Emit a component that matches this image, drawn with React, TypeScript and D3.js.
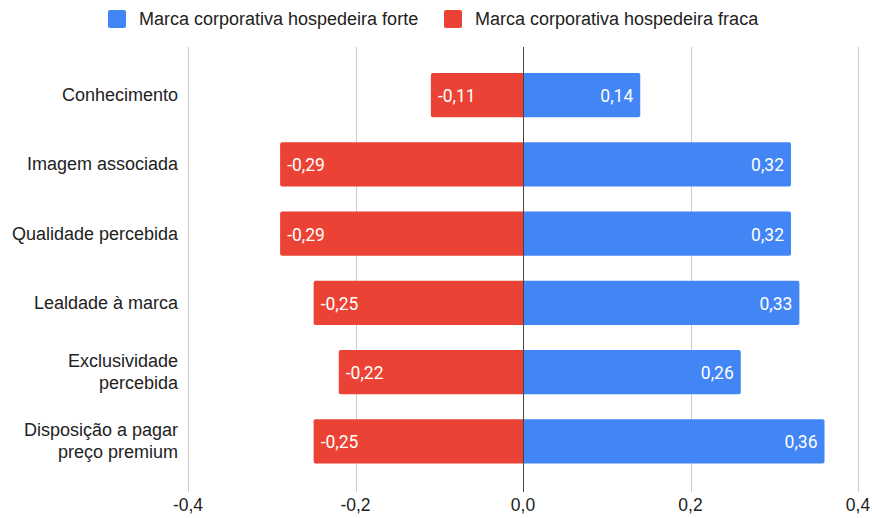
import { useRef, useEffect } from "react";
import * as d3 from "d3";

const categories = [
  "Conhecimento",
  "Imagem associada",
  "Qualidade percebida",
  "Lealdade à marca",
  "Exclusividade percebida",
  "Disposição a pagar preço premium",
];
const forte = [0.14, 0.32, 0.32, 0.33, 0.26, 0.36];
const fraca = [-0.11, -0.29, -0.29, -0.25, -0.22, -0.25];
const ticks = [-0.4, -0.2, 0, 0.2, 0.4];
const seriesNames = [
  "Marca corporativa hospedeira forte",
  "Marca corporativa hospedeira fraca",
];

const BLUE = "#4285F4";
const RED = "#EA4335";
// d3.format uses a unicode minus; the chart uses a plain hyphen and a comma decimal
const fmt = (v: number) => d3.format(".2f")(v).replace(".", ",").replace("\u2212", "-");
const fmtTick = (v: number) => d3.format(".1f")(v).replace(".", ",").replace("\u2212", "-");

const App = () => {
  const svgRef = useRef(null);

  useEffect(() => {
    d3.select(svgRef.current).selectAll("*").remove();

    const width = 872;
    const height = 518;
    const svg = d3.select(svgRef.current).attr("width", width).attr("height", height);

    const x = d3.scaleLinear().domain([-0.4, 0.4]).range([188, 858]);
    const y = d3
      .scaleBand()
      .domain(categories)
      .range([60.5, 476])
      .paddingInner(0.36)
      .paddingOuter(0.18);

    // gridlines
    svg
      .selectAll("line.grid")
      .data(ticks.filter((t) => t !== 0))
      .enter()
      .append("line")
      .attr("x1", (d) => Math.round(x(d)) + 0.5)
      .attr("x2", (d) => Math.round(x(d)) + 0.5)
      .attr("y1", 47)
      .attr("y2", 492)
      .attr("stroke", "#cccccc")
      .attr("stroke-width", 1);

    // tick labels
    svg
      .selectAll("text.tick")
      .data(ticks)
      .enter()
      .append("text")
      .attr("x", (d) => x(d))
      .attr("y", 511)
      .attr("text-anchor", "middle")
      .style("font-family", "'Liberation Sans', Arial, sans-serif")
      .style("font-size", "17.5px")
      .style("fill", "#222")
      .text((d) => fmtTick(d));

    const rows = categories.map((c, i) => ({ cat: c, pos: forte[i], neg: fraca[i] }));

    // bars, rounded at the outer end
    const barPath = (v: number, yy: number, h: number) => {
      const x0 = x(0);
      const x1 = x(v);
      const r = 2;
      if (v >= 0) {
        return `M${x0},${yy}H${x1 - r}Q${x1},${yy} ${x1},${yy + r}V${yy + h - r}Q${x1},${yy + h} ${x1 - r},${yy + h}H${x0}Z`;
      }
      return `M${x0},${yy}H${x1 + r}Q${x1},${yy} ${x1},${yy + r}V${yy + h - r}Q${x1},${yy + h} ${x1 + r},${yy + h}H${x0}Z`;
    };

    const bw = y.bandwidth();
    svg
      .selectAll("path.neg")
      .data(rows)
      .enter()
      .append("path")
      .attr("d", (d) => barPath(d.neg, y(d.cat), bw))
      .attr("fill", RED);
    svg
      .selectAll("path.pos")
      .data(rows)
      .enter()
      .append("path")
      .attr("d", (d) => barPath(d.pos, y(d.cat), bw))
      .attr("fill", BLUE);

    // zero line
    svg
      .append("line")
      .attr("x1", Math.round(x(0)) + 0.5)
      .attr("x2", Math.round(x(0)) + 0.5)
      .attr("y1", 47)
      .attr("y2", 492)
      .attr("stroke", "#444")
      .attr("stroke-width", 1);

    // value labels
    const valueStyle = (sel) =>
      sel
        .attr("dominant-baseline", "central")
        .style("font-family", "Roboto, sans-serif")
        .style("font-size", "17.5px")
        .style("fill", "#fff");

    svg
      .selectAll("text.neg")
      .data(rows)
      .enter()
      .append("text")
      .attr("x", (d) => x(d.neg) + 7)
      .attr("y", (d) => y(d.cat) + bw / 2 + 1)
      .attr("text-anchor", "start")
      .call(valueStyle)
      .text((d) => fmt(d.neg));
    svg
      .selectAll("text.pos")
      .data(rows)
      .enter()
      .append("text")
      .attr("x", (d) => x(d.pos) - 7)
      .attr("y", (d) => y(d.cat) + bw / 2 + 1)
      .attr("text-anchor", "end")
      .call(valueStyle)
      .text((d) => fmt(d.pos));

    // category labels, wrapped to fit the left margin
    const maxW = 172;
    const lineH = 22;
    svg
      .selectAll("text.cat")
      .data(categories)
      .enter()
      .append("text")
      .attr("text-anchor", "end")
      .style("font-family", "'Liberation Sans', Arial, sans-serif")
      .style("font-size", "18px")
      .style("fill", "#222")
      .each(function (c) {
        const text = d3.select(this);
        const words = c.split(" ");
        const lines: string[] = [];
        let cur = "";
        const probe = text.append("tspan");
        words.forEach((w) => {
          const test = cur ? cur + " " + w : w;
          probe.text(test);
          if (probe.node().getComputedTextLength() > maxW && cur) {
            lines.push(cur);
            cur = w;
          } else {
            cur = test;
          }
        });
        lines.push(cur);
        probe.remove();
        const cy = y(c) + bw / 2;
        const first = cy - ((lines.length - 1) * lineH) / 2 + 6;
        lines.forEach((l, i) => {
          text
            .append("tspan")
            .attr("x", 178)
            .attr("y", first + i * lineH)
            .text(l);
        });
      });

    // legend
    const legendX = [108, 444];
    const lg = svg
      .selectAll("g.legend")
      .data(seriesNames)
      .enter()
      .append("g")
      .attr("transform", (d, i) => `translate(${legendX[i]},10)`);
    lg.append("rect")
      .attr("width", 18)
      .attr("height", 18)
      .attr("rx", 2)
      .attr("fill", (d, i) => (i === 0 ? BLUE : RED));
    lg.append("text")
      .attr("x", 31)
      .attr("y", 15)
      .style("font-family", "'Liberation Sans', Arial, sans-serif")
      .style("font-size", "18px")
      .style("fill", "#222")
      .text((d) => d);
  }, []);

  return (
    <div style={{ position: "absolute", left: 0, top: 0 }}>
      <svg ref={svgRef}></svg>
    </div>
  );
};

export default App;
